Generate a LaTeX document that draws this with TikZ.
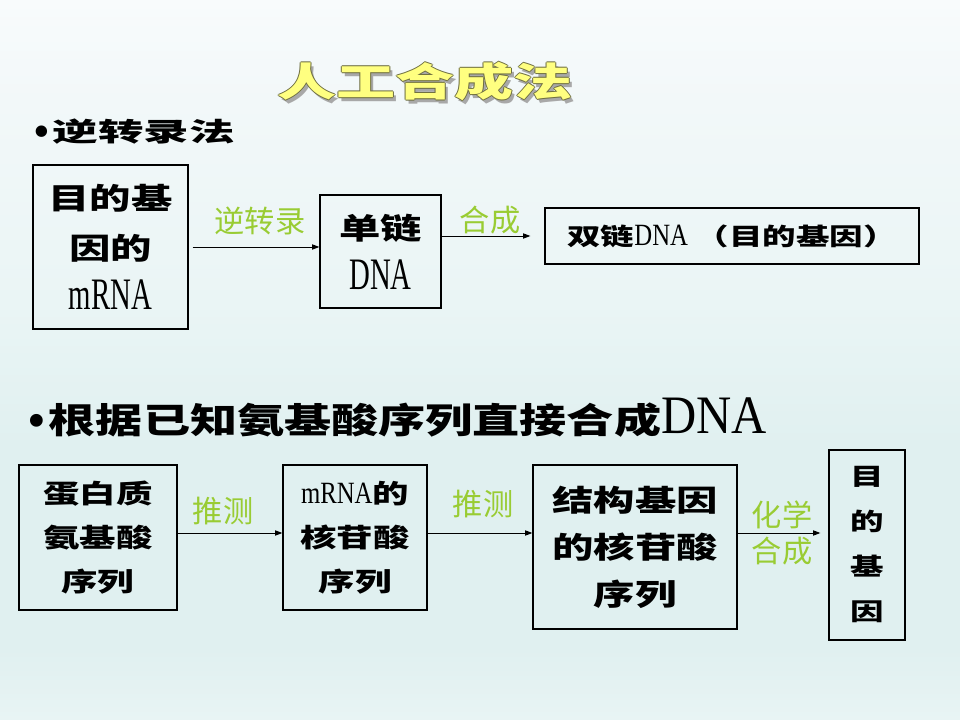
\documentclass[tikz,border=0pt]{standalone}
\usepackage{fontspec}
\usepackage{xcolor}
\usepackage{tikz}
\usetikzlibrary{arrows.meta,calc}
\setmainfont{Liberation Serif}
\newfontfamily\cjklbl{Noto Sans CJK SC}
\newfontfamily\cjkbox{Noto Sans CJK SC}[FakeStretch=1.4]
\newfontfamily\cjkhead{Noto Sans CJK SC}[FakeStretch=1.75]
\newfontfamily\cjkheadb{Noto Sans CJK SC}[FakeStretch=1.34]
\newfontfamily\cjktitle{Noto Sans CJK SC}[FakeStretch=1.5]
\newfontfamily\dnafont{Liberation Serif}[FakeStretch=0.64]
\newfontfamily\dnamid{Liberation Serif}[FakeStretch=0.8]
\newfontfamily\dnawide{Liberation Serif}[FakeStretch=0.9]
\definecolor{bgtop}{HTML}{F8FBFC}
\definecolor{bgupper}{HTML}{F2F8F9}
\definecolor{bgmid}{HTML}{EAF5F5}
\definecolor{bgdeep}{HTML}{E0F0F0}
\definecolor{bgbot}{HTML}{E8F4F4}
\definecolor{leaf}{RGB}{153,204,51}
\definecolor{titlefill}{HTML}{FFFF80}
\definecolor{titleedge}{HTML}{6E6E40}
\definecolor{titleshade}{HTML}{A8A8A8}
\pgfdeclareverticalshading{slidebg}{100bp}{color(0bp)=(bgbot); color(25bp)=(bgbot); color(30bp)=(bgdeep); color(44bp)=(bgdeep); color(54bp)=(bgmid); color(68bp)=(bgupper); color(75bp)=(bgtop); color(100bp)=(bgtop)}
\newcommand{\titlefont}{\cjktitle\bfseries\fontsize{28pt}{30pt}\selectfont}
\newcommand{\dotmark}[2]{\raisebox{#2}{\rmfamily\mdseries\fontsize{#1}{#1}\selectfont •}\hspace{2pt}}

\begin{document}
\begin{tikzpicture}[x=0.025cm,y=-0.025cm,
  box/.style 2 args={draw=black,line width=0.9pt,minimum width=#1*0.025cm,
    minimum height=#2*0.025cm,inner sep=0pt,align=center},
  arr/.style={-{Triangle[length=1.8mm,width=1.3mm]},line width=0.7pt},
  lbl/.style={text=leaf,font=\cjklbl\fontsize{21.5pt}{26pt}\selectfont,inner sep=0pt,align=center},
]
  % background
  \fill[shading=slidebg] (0,0) rectangle (960,720);

  % title
  \node[text=titleshade,font=\titlefont] (title-shadow) at (428,86) {人工合成法};
  \foreach \dx/\dy [count=\i] in {-1/0,1/0,0/-1,0/1}
    \node[text=titleedge,font=\titlefont] (title-o\i) at (425+\dx,82+\dy) {人工合成法};
  \node[text=titlefill,font=\titlefont] (title) at (425,82) {人工合成法};

  % reverse transcription
  \node[anchor=west,inner sep=0pt,font=\cjkhead\bfseries\fontsize{18.5pt}{20pt}\selectfont] (sec1) at (33,133)
    {\dotmark{34pt}{-4pt}逆转录法};
  \node[box={155}{164},font=\cjkbox\bfseries\fontsize{21pt}{35.6pt}\selectfont] (b1) at (110.5,247)
    {目的基\\因的\\{\dnafont\mdseries\fontsize{32pt}{32pt}\selectfont mRNA}};
  \node[box={121}{113},font=\cjkbox\bfseries\fontsize{21pt}{35.6pt}\selectfont] (b2) at (380.5,251.5)
    {单链\\{\dnafont\mdseries\fontsize{32pt}{32pt}\selectfont DNA}};
  \node[box={374}{56},font=\cjkbox\bfseries\fontsize{17pt}{20pt}\selectfont] (b3) at (732,236)
    {双链{\dnamid\mdseries\fontsize{22pt}{22pt}\selectfont DNA}\ （目的基因）};
  \draw[arr,shorten <=0.1cm] (b1.east) -- (b1.east -| b2.west);
  \draw[arr,shorten >=0.35cm] (b2.east |- b3.west) -- (b3.west);
  \node[lbl] (l-rt) at (260,221) {逆转录};
  \node[lbl] (l-hc1) at (490,220) {合成};

  % from amino acid sequence
  \node[anchor=base west,inner sep=0pt,font=\cjkheadb\bfseries\fontsize{25pt}{27pt}\selectfont] (sec2) at (27,434)
    {\dotmark{38pt}{-3pt}根据已知氨基酸序列直接合成{\dnawide\mdseries\fontsize{38.5pt}{40pt}\selectfont DNA}};
  \node[box={158}{145},font=\cjkbox\bfseries\fontsize{18.5pt}{31.3pt}\selectfont] (bA) at (98,537.5)
    {蛋白质\\氨基酸\\序列};
  \node[box={144}{145},font=\cjkbox\bfseries\fontsize{18.5pt}{31.3pt}\selectfont] (bB) at (355,537.5)
    {{\dnamid\mdseries\fontsize{22pt}{22pt}\selectfont mRNA}的\\核苷酸\\序列};
  \node[box={204}{164},font=\cjkbox\bfseries\fontsize{21pt}{33.4pt}\selectfont] (bC) at (635,547)
    {结构基因\\的核苷酸\\序列};
  \node[box={76}{190},font=\cjkbox\bfseries\fontsize{17pt}{32pt}\selectfont] (bD) at (867,545)
    {目\\的\\基\\因};
  \coordinate (lane) at (0,533);
  \draw[arr] (bA.east |- lane) -- (bB.west |- lane);
  \draw[arr] (bB.east |- lane) -- (bC.west |- lane);
  \draw[arr,shorten >=0.2cm] (bC.east |- lane) -- (bD.west |- lane);
  \node[lbl] (l-tc1) at (223,511) {推测};
  \node[lbl] (l-tc2) at (483,504) {推测};
  \node[lbl] (l-hx) at (782,533) {化学\\合成};
\end{tikzpicture}
\end{document}
